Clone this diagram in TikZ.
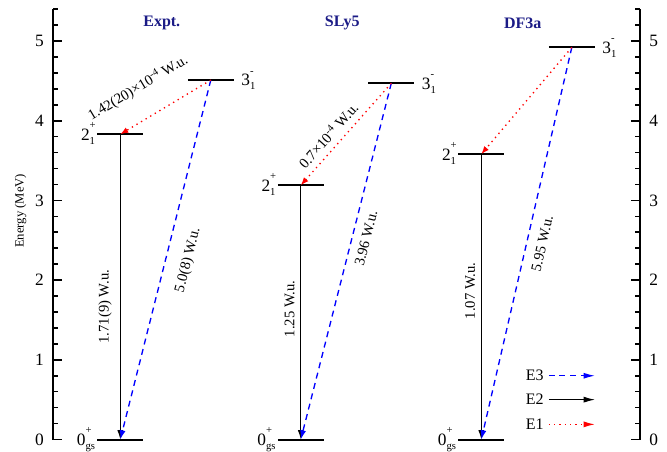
\documentclass[tikz,border=0pt]{standalone}
\usepackage{fontspec}
\setmainfont{Liberation Serif}
\usepackage{tikz}
\usetikzlibrary{arrows.meta,positioning,calc}
\definecolor{TitleNavy}{HTML}{1B1B86}
\definecolor{EOneRed}{HTML}{FF0000}
\definecolor{EThreeBlue}{HTML}{0000FF}
\newcommand{\lvlname}[3]{#1\makebox[0pt][l]{\raisebox{0.68em}{\fontsize{8}{8}\selectfont #2}}\raisebox{-0.23em}{\fontsize{8}{8}\selectfont #3}}

\begin{document}
\begin{tikzpicture}[x=0.75pt,y=59.775pt,
		lvl/.style={line width=1.5pt},
		axisline/.style={line width=1.5pt},
		etwo/.style={line width=0.8pt,-{Latex[length=7pt,width=4.5pt]}},
		ethree/.style={line width=1pt,EThreeBlue,dash pattern=on 4.5pt off 3.5pt,-{Latex[length=7pt,width=4.5pt]}},
		eone/.style={line width=1pt,EOneRed,dash pattern=on 1pt off 3pt,-{Latex[length=6pt,width=4.5pt]}},
		lgdtip/.style={-{Latex[length=8.5pt,width=4.5pt]}},
		wu/.style={font=\fontsize{11}{13}\selectfont,text=black,inner xsep=0pt},
		lvllab/.style={font=\fontsize{13}{15}\selectfont,inner sep=0pt},
		ticklab/.style={font=\fontsize{13}{15}\selectfont,inner sep=0pt},
		ttl/.style={font=\fontsize{12}{14}\selectfont\bfseries,TitleNavy},
		lgd/.style={font=\fontsize{12}{14}\selectfont,inner xsep=3.6pt,inner ysep=0pt}]
		\useasboundingbox (0,-0.1443) rectangle (667,5.5144);
		% axes
		\draw[axisline] (53,0) -- (53,5.4);
		\draw[axisline] (640,0) -- (640,5.4);
		\foreach \i in {0,...,27} {
			\draw[line width=1.2pt] (53,\i/5) -- ++(5,0);
			\draw[line width=1.2pt] (640,\i/5) -- ++(-5,0);
		}
		\foreach \i in {0,...,5} {
			\draw[line width=1.2pt] (53,\i) -- ++(9,0);
			\draw[line width=1.2pt] (640,\i) -- ++(-9,0);
			\node[ticklab,anchor=east] (yl\i) at (44,\i) {\i};
			\node[ticklab,anchor=west] (yr\i) at (649,\i) {\i};
		}
		\node[font=\fontsize{9.5}{11}\selectfont,rotate=90] (ylab) at (20.7,2.87) {Energy (MeV)};
		% levels
		\foreach \c/\x/\ea/\eb/\t in {ex/97.3/3.83/4.51/Expt., sl/277.8/3.19/4.47/SLy5, df/458.3/3.58/4.92/DF3a} {
			\coordinate (\c0) at (\x+23,0);
			\coordinate (\c2) at (\x+23,\ea);
			\coordinate (\c3) at (\x+113.5,\eb);
			\draw[lvl] (\x,0) -- ++(46,0);
			\draw[lvl] (\x,\ea) -- ++(46,0);
			\draw[lvl] (\x+90.5,\eb) -- ++(46,0);
			\node[lvllab,anchor=base east,xshift=-1.5pt,yshift=-4.4pt] (\c0lab) at (\x,0) {\lvlname{0}{+}{gs}};
			\node[lvllab,anchor=base east,xshift=-1.5pt,yshift=-4.4pt] (\c2lab) at (\x,\ea) {\lvlname{2}{+}{1}};
			\node[lvllab,anchor=base west,xshift=5.5pt,yshift=-4.4pt] (\c3lab) at (\x+136.5,\eb) {\lvlname{3}{-}{1}};
			\node[ttl] (\c ttl) at (\x+64.5,5.222) {\t};
		}
		% transitions
		\draw[etwo] (ex2) -- (ex0) node[wu,pos=0.565,rotate=90,anchor=south,inner ysep=6pt] (ex2lab) {1.71(9) W.u.};
		\draw[ethree] (ex3) -- (ex0) node[wu,pos=0.486,sloped,anchor=north,inner ysep=11pt] (ex3lab) {5.0(8) W.u.};
		\draw[eone] (ex3) -- (ex2) node[wu,pos=0.63,sloped,anchor=south,inner ysep=17pt] (ex1lab) {1.42(20)×10\textsuperscript{-4} W.u.};
		\draw[etwo] (sl2) -- (sl0) node[wu,pos=0.487,rotate=90,anchor=south,inner ysep=4.3pt] (sl2lab) {1.25 W.u.};
		\draw[ethree] (sl3) -- (sl0) node[wu,pos=0.426,sloped,anchor=north,inner ysep=6pt] (sl3lab) {3.96 W.u.};
		\draw[eone] (sl3) -- (sl2) node[wu,pos=0.593,sloped,anchor=south,inner ysep=4.6pt] (sl1lab) {0.7×10\textsuperscript{-4} W.u.};
		\draw[etwo] (df2) -- (df0) node[wu,pos=0.479,rotate=90,anchor=south,inner ysep=4.3pt] (df2lab) {1.07 W.u.};
		\draw[ethree] (df3) -- (df0) node[wu,pos=0.492,sloped,anchor=north,inner ysep=7.2pt] (df3lab) {5.95 W.u.};
		\draw[eone] (df3) -- (df2);
		% legend
		\node[lgd,anchor=east] (lgEthree) at (548.8,0.8) {E3};
		\node[lgd,anchor=east] (lgEtwo) at (548.8,0.5) {E2};
		\node[lgd,anchor=east] (lgEone) at (548.8,0.19) {E1};
		\coordinate (lgEthreeEnd) at (595,0.8);
		\coordinate (lgEtwoEnd) at (595,0.5);
		\coordinate (lgEoneEnd) at (595,0.19);
		\draw[ethree,lgdtip] (lgEthree) -- (lgEthreeEnd);
		\draw[etwo,lgdtip] (lgEtwo) -- (lgEtwoEnd);
		\draw[eone,lgdtip] (lgEone) -- (lgEoneEnd);
	\end{tikzpicture}
\end{document}
